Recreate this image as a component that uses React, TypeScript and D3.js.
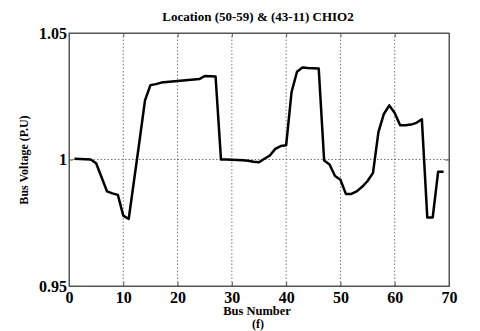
import * as d3 from "d3";
import { useRef, useEffect } from "react";

const W = 480;
const H = 331;
const margin = { top: 33, right: 31, bottom: 45, left: 69 };

// bus voltage per bus number
const busNumbers = d3.range(1, 70);
const voltages = [
  1.0003, 1.0002, 1.0001, 1.0, 0.9985, 0.993, 0.9874, 0.9866, 0.986, 0.9778,
  0.9765, 0.992, 1.0075, 1.0234, 1.0294, 1.0298, 1.0304, 1.0306, 1.0308, 1.031,
  1.0312, 1.0314, 1.0316, 1.0318, 1.033, 1.0329, 1.0328, 1.0, 1.0, 0.9999,
  0.9998, 0.9997, 0.9995, 0.9991, 0.9989, 1.0003, 1.0016, 1.0042, 1.0053, 1.0056,
  1.0267, 1.0347, 1.0364, 1.0362, 1.0361, 1.036, 0.9996, 0.998, 0.9935, 0.992,
  0.9864, 0.9864, 0.9874, 0.9892, 0.9915, 0.9947, 1.0108, 1.018, 1.0214, 1.0184,
  1.0135, 1.0135, 1.0138, 1.0145, 1.0159, 0.9771, 0.9771, 0.9952, 0.9952,
];
const xTicks = [0, 10, 20, 30, 40, 50, 60, 70];
const yTicks = [0.95, 1, 1.05];

const font = "'Liberation Serif', 'Times New Roman', serif";

const App = () => {
  const ref = useRef<SVGSVGElement>(null);

  useEffect(() => {
    const svg = d3.select(ref.current);
    svg.selectAll("*").remove();

    const x = d3.scaleLinear().domain([0, 70]).range([margin.left, W - margin.right]);
    const y = d3.scaleLinear().domain([0.95, 1.05]).range([H - margin.bottom, margin.top]);

    // dotted grid
    svg
      .append("g")
      .selectAll("line")
      .data(xTicks.slice(1, -1))
      .join("line")
      .attr("x1", (d) => x(d))
      .attr("x2", (d) => x(d))
      .attr("y1", y(0.95))
      .attr("y2", y(1.05))
      .attr("stroke", "#777")
      .attr("stroke-width", 1)
      .attr("stroke-dasharray", "1.5,2");

    svg
      .append("line")
      .attr("x1", x(0))
      .attr("x2", x(70))
      .attr("y1", y(1))
      .attr("y2", y(1))
      .attr("stroke", "#777")
      .attr("stroke-width", 1)
      .attr("stroke-dasharray", "1.5,2");

    // box
    svg
      .append("rect")
      .attr("x", x(0))
      .attr("y", y(1.05))
      .attr("width", x(70) - x(0))
      .attr("height", y(0.95) - y(1.05))
      .attr("fill", "none")
      .attr("stroke", "#555")
      .attr("stroke-width", 1);

    // axes
    const xAxis = svg
      .append("g")
      .attr("transform", `translate(0,${y(0.95)})`)
      .call(d3.axisBottom(x).tickValues(xTicks).tickSize(-4).tickPadding(6).tickFormat(d3.format("d")));
    svg
      .append("g")
      .attr("transform", `translate(0,${y(1.05)})`)
      .call(d3.axisTop(x).tickValues(xTicks).tickSize(-4).tickFormat(() => ""));
    const yAxis = svg
      .append("g")
      .attr("transform", `translate(${x(0)},0)`)
      .call(d3.axisLeft(y).tickValues(yTicks).tickSize(-4).tickPadding(2).tickFormat((d) => String(d)));
    svg
      .append("g")
      .attr("transform", `translate(${x(70)},0)`)
      .call(d3.axisRight(y).tickValues(yTicks).tickSize(-4).tickFormat(() => ""));

    svg.selectAll(".domain").attr("stroke", "#555");
    svg.selectAll(".tick line").attr("stroke", "#555");
    [xAxis, yAxis].forEach((g) =>
      g
        .attr("font-family", font)
        .selectAll("text")
        .attr("font-family", font)
        .attr("font-weight", "bold")
        .attr("font-size", 16)
        .attr("fill", "#000")
    );

    // voltage line
    const line = d3
      .line<number>()
      .x((_, i) => x(busNumbers[i]))
      .y((d) => y(d));
    svg
      .append("path")
      .datum(voltages)
      .attr("d", line)
      .attr("fill", "none")
      .attr("stroke", "#000")
      .attr("stroke-width", 2.5)
      .attr("stroke-linejoin", "round");

    // labels
    const label = (txt: string, tx: number, ty: number, size: number, rot = 0) =>
      svg
        .append("text")
        .attr("transform", `translate(${tx},${ty}) rotate(${rot})`)
        .attr("text-anchor", "middle")
        .attr("font-family", font)
        .attr("font-weight", "bold")
        .attr("font-size", size)
        .text(txt);

    label("Location (50-59) & (43-11) CHIO2", 258, 21, 13);
    label("Bus Number", 257, 315, 12.5);
    label("(f)", 258, 328, 12);
    label("Bus Voltage (P.U)", 28, 160, 12, -90);
  }, []);

  return (
    <svg
      ref={ref}
      width={W}
      height={H}
      style={{ position: "absolute", left: 0, top: 0, background: "#fff" }}
    />
  );
};

export default App;
